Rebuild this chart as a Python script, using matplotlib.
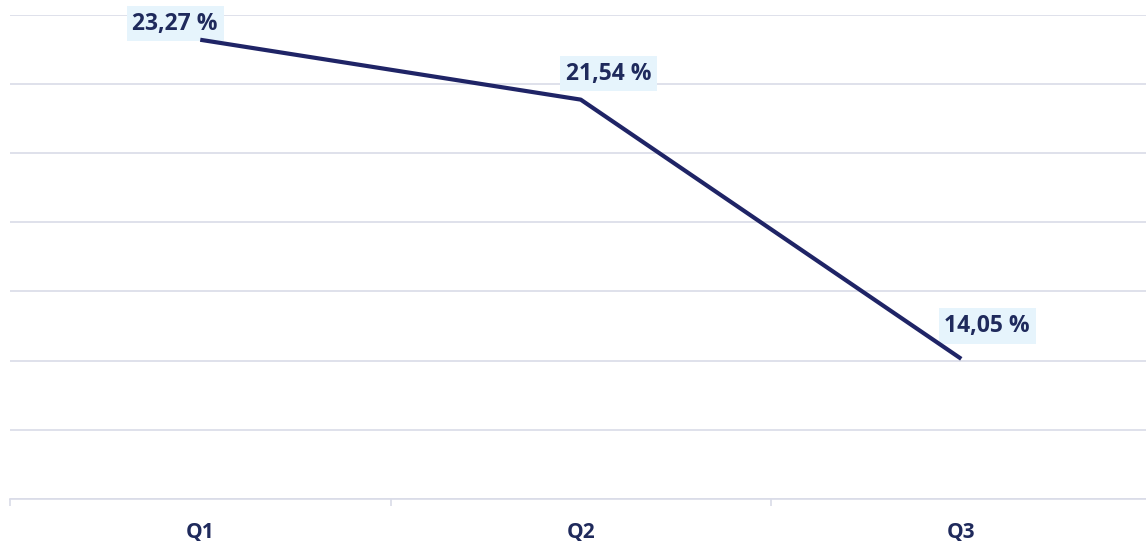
import numpy as np
import matplotlib.pyplot as plt
from matplotlib.ticker import MultipleLocator, FixedLocator

quarters = ["Q1", "Q2", "Q3"]
rates = [23.27, 21.54, 14.05]
rate_labels = ["23,27 %", "21,54 %", "14,05 %"]

# label offsets from the point, in pixels
label_offsets = [(-25, 16), (28, 26), (26, 33)]

line_color = "#1f2466"
text_color = "#1f2a5c"
grid_color = "#d9dbe8"

plt.rcParams['font.family'] = ['Open Sans', 'DejaVu Sans']

fig = plt.figure(figsize=(11.46, 5.41), dpi=100)
ax = fig.add_axes([10 / 1146, 42 / 541, 1141.5 / 1146, 484.5 / 541])

x = np.arange(len(quarters))
ax.plot(x, rates, color=line_color, lw=3, solid_capstyle='butt', zorder=3)

for xi, yi, lab, off in zip(x, rates, rate_labels, label_offsets):
    ax.annotate(lab, (xi, yi), xytext=off, textcoords='offset pixels',
                ha='center', va='center', fontsize=16.5, fontweight='bold',
                color=text_color, zorder=2,
                bbox=dict(boxstyle='square,pad=0.25', fc='#e6f4fc', ec='none'))

ax.set_xlim(-0.5, 2.5)
ax.set_ylim(10, 24)
ax.yaxis.set_major_locator(MultipleLocator(2))
ax.grid(axis='y', color=grid_color, lw=1.2)
ax.set_axisbelow(True)

ax.set_xticks(x)
ax.set_xticklabels(quarters, fontsize=15, fontweight='bold', color=text_color)
ax.xaxis.set_minor_locator(FixedLocator([-0.5, 0.5, 1.5, 2.5]))
ax.tick_params(axis='x', which='major', length=0, pad=16)
ax.tick_params(axis='x', which='minor', length=5, color=grid_color, width=1.2)
ax.tick_params(axis='y', length=0, labelleft=False)

for side in ['top', 'right', 'left']:
    ax.spines[side].set_visible(False)
ax.spines['bottom'].set_color(grid_color)
ax.spines['bottom'].set_linewidth(1.2)

fig.savefig("out.png", dpi=100)
